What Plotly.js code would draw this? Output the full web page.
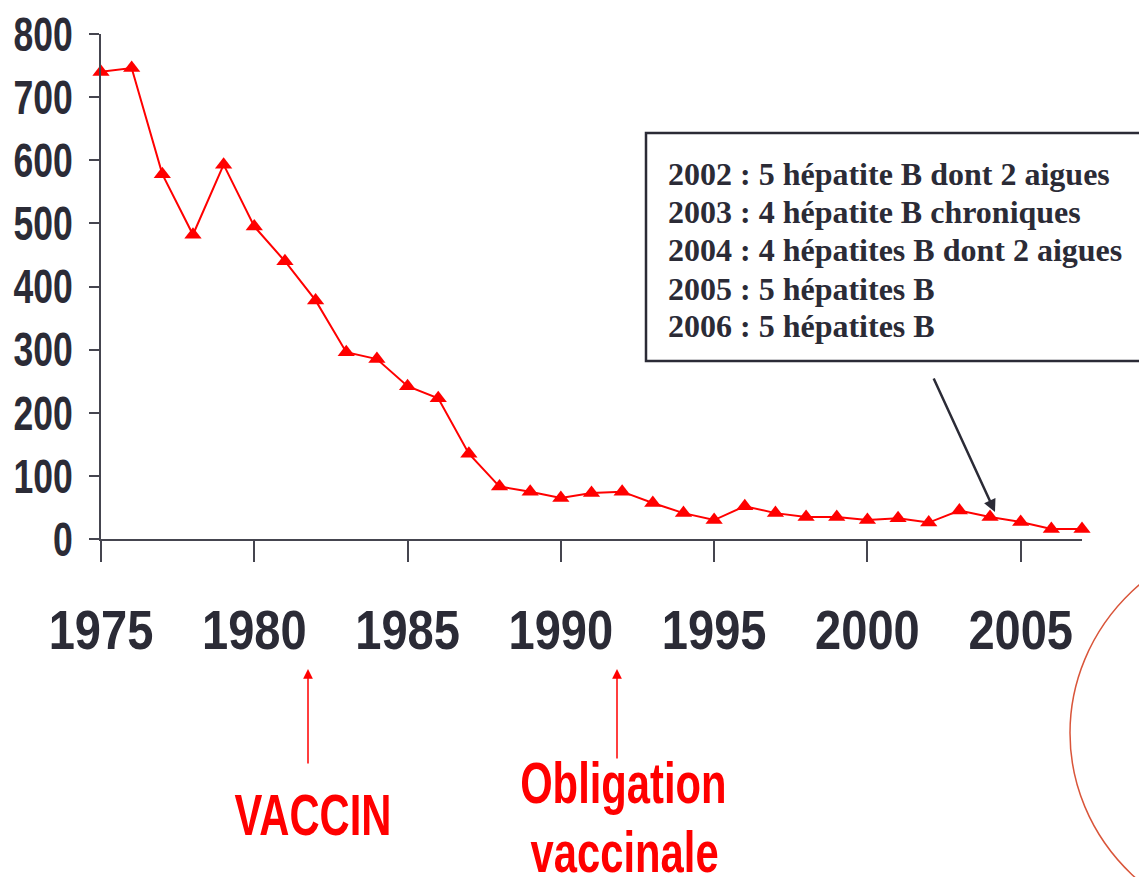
<!DOCTYPE html>
<html>
<head>
<meta charset="utf-8">
<script src="https://cdn.plot.ly/plotly-3.0.1.min.js"></script>
<style>html,body{margin:0;padding:0;background:#fff;}#chart{width:1139px;height:877px;}</style>
</head>
<body>
<div id="chart"></div>
<script>
// Data
const years = [1975,1976,1977,1978,1979,1980,1981,1982,1983,1984,1985,1986,1987,1988,1989,1990,1991,1992,1993,1994,1995,1996,1997,1998,1999,2000,2001,2002,2003,2004,2005,2006,2007];
const cases = [740,746,578,482,593,495,440,378,296,285,242,223,135,83,75,65,73,75,57,41,30,52,41,35,35,30,33,26,45,35,27,16,16];
const xTickVals = [1975,1980,1985,1990,1995,2000,2005];
const xTickText = ['1975','1980','1985','1990','1995','2000','2005'];
const yTickVals = [0,100,200,300,400,500,600,700,800];
const boxLines = [
  '2002 : 5 hépatite B dont 2 aigues',
  '2003 : 4 hépatite B chroniques',
  '2004 : 4 hépatites B dont 2 aigues',
  '2005 : 5 hépatites B',
  '2006 : 5 hépatites B'
];
const vaccinLabel = 'VACCIN';
const obligationLabel = ['Obligation', 'vaccinale'];

// layout geometry (pixels)
const W = 1139, H = 877, L = 101, R = 1082, T = 34, B = 539;
const px = v => (v - L) / (R - L);
const py = v => (B - v) / (B - T);

const dark = '#2b2b36';
const sans = 'Liberation Sans, Arial, sans-serif';
const serif = 'Liberation Serif, Times New Roman, serif';

const trace = {
  x: years, y: cases, type: 'scatter', mode: 'lines+markers',
  line: {color: '#ff0000', width: 2},
  marker: {symbol: 'triangle-up', size: 15, color: '#ff0000'},
  cliponaxis: false, hoverinfo: 'x+y'
};

const boxYs = [174, 212, 250, 289, 326];
const annotations = boxLines.map((t, i) => ({
  text: t, xref: 'paper', yref: 'paper', x: px(666), y: py(boxYs[i]),
  xanchor: 'left', yanchor: 'middle', showarrow: false,
  font: {family: serif, size: 32, color: dark, weight: 'bold'}
}));

annotations.push({
  text: '', xref: 'paper', yref: 'paper', x: px(995), y: py(512),
  showarrow: true, ax: 933 - 995, ay: 377 - 512, axref: 'pixel', ayref: 'pixel',
  arrowhead: 2, arrowsize: 1, arrowwidth: 2.5, arrowcolor: dark, standoff: 0
});
annotations.push({
  text: '', xref: 'paper', yref: 'paper', x: px(308), y: py(669),
  showarrow: true, ax: 0, ay: 96, arrowhead: 2, arrowsize: 1.3, arrowwidth: 1.5,
  arrowcolor: '#ff0000', standoff: 0
});
annotations.push({
  text: '', xref: 'paper', yref: 'paper', x: px(617), y: py(669),
  showarrow: true, ax: 0, ay: 91, arrowhead: 2, arrowsize: 1.3, arrowwidth: 1.5,
  arrowcolor: '#ff0000', standoff: 0
});
const redFont = {family: sans, size: 58, color: '#ff0000', weight: 'bold'};
const redStart = annotations.length;
annotations.push({text: vaccinLabel, xref: 'paper', yref: 'paper', x: px(313), y: py(814),
  xanchor: 'center', yanchor: 'middle', showarrow: false, font: redFont});
annotations.push({text: obligationLabel[0], xref: 'paper', yref: 'paper', x: px(623), y: py(782),
  xanchor: 'center', yanchor: 'middle', showarrow: false, font: redFont});
annotations.push({text: obligationLabel[1], xref: 'paper', yref: 'paper', x: px(624), y: py(851),
  xanchor: 'center', yanchor: 'middle', showarrow: false, font: redFont});

const shapes = [
  {type: 'rect', xref: 'paper', yref: 'paper', x0: px(646), x1: px(1150), y0: py(361), y1: py(133),
   line: {color: dark, width: 2.5}, fillcolor: 'rgba(0,0,0,0)'},
  {type: 'circle', xref: 'paper', yref: 'paper', x0: px(1070), x1: px(1492), y0: py(933), y1: py(533),
   line: {color: '#d9553a', width: 1.5}, fillcolor: 'rgba(0,0,0,0)'}
];

const layout = {
  width: W, height: H,
  margin: {l: L, r: W - R, t: T, b: H - B, pad: 0},
  paper_bgcolor: '#fff', plot_bgcolor: '#fff',
  showlegend: false,
  xaxis: {
    range: [1975, 2007], tickvals: xTickVals, ticktext: xTickText,
    showgrid: false, zeroline: false, showline: true, linecolor: '#45454f', linewidth: 2,
    ticks: 'outside', ticklen: 21, tickwidth: 2, tickcolor: '#45454f',
    tickfont: {family: sans, size: 56, color: dark, weight: 'bold'},
    ticklabelstandoff: 20
  },
  yaxis: {
    range: [0, 800], tickvals: yTickVals,
    showgrid: false, zeroline: false, showline: true, linecolor: '#45454f', linewidth: 2.5,
    ticks: 'outside', ticklen: 10, tickwidth: 2, tickcolor: '#45454f',
    tickfont: {family: sans, size: 48, color: dark, weight: 'bold'},
    ticklabelstandoff: 6
  },
  annotations: annotations,
  shapes: shapes
};

// condense a text horizontally (the reference uses a narrow typeface)
function condense(el, f) {
  const w = el.getComputedTextLength();
  el.setAttribute('textLength', (w * f).toFixed(1));
  el.setAttribute('lengthAdjust', 'spacingAndGlyphs');
}

Plotly.newPlot('chart', [trace], layout, {displayModeBar: false, staticPlot: true}).then(gd => {
  gd.querySelectorAll('.xtick text').forEach(t => condense(t, 0.84));
  gd.querySelectorAll('.ytick text').forEach(t => condense(t, 0.74));
  for (let i = redStart; i < redStart + 3; i++) {
    gd.querySelectorAll('.annotation[data-index="' + i + '"] text.annotation-text')
      .forEach(t => condense(t, 0.72));
  }
});
</script>
</body>
</html>
